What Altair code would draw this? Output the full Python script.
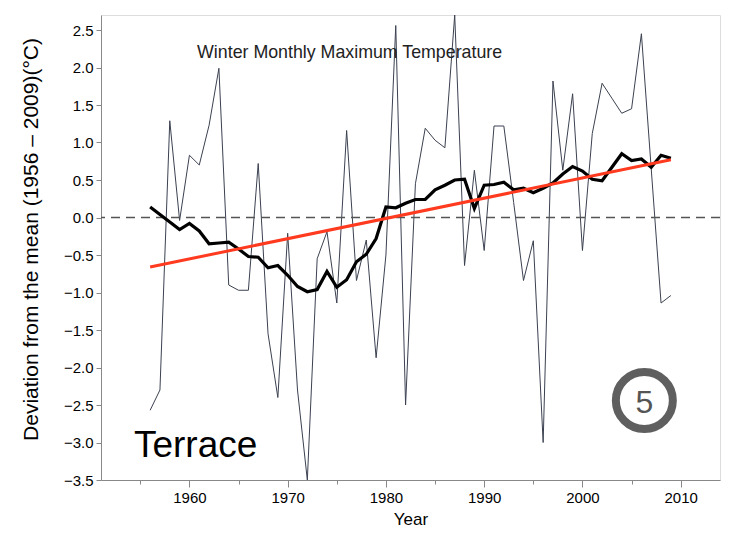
import altair as alt
import pandas as pd

years = list(range(1956, 2010))
annual = [-2.57, -2.30, 1.29, -0.04, 0.83, 0.70, 1.23, 1.99, -0.90, -0.97,
          -0.97, 0.72, -1.55, -2.40, -0.21, -2.30, -3.50, -0.55, -0.19, -1.14,
          1.16, -0.84, -0.30, -1.87, -0.50, 2.56, -2.50, 0.45, 1.19, 1.03,
          0.93, 2.70, -0.64, 0.63, -0.44, 1.22, 1.22, 0.20, -0.84, -0.31,
          -3.00, 1.82, 0.63, 1.65, -0.44, 1.12, 1.79, 1.59, 1.39, 1.45,
          2.45, 0.65, -1.14, -1.04]
running_mean = [0.14, 0.04, -0.06, -0.16, -0.08, -0.18, -0.35, -0.34, -0.33, -0.42,
                -0.52, -0.53, -0.67, -0.64, -0.77, -0.92, -0.99, -0.96, -0.72, -0.93,
                -0.83, -0.59, -0.49, -0.28, 0.14, 0.13, 0.19, 0.24, 0.24, 0.37,
                0.43, 0.50, 0.51, 0.12, 0.43, 0.44, 0.47, 0.37, 0.39, 0.33,
                0.39, 0.46, 0.58, 0.68, 0.62, 0.51, 0.49, 0.67, 0.85, 0.76,
                0.78, 0.67, 0.83, 0.79]
trend_years = [1956, 2009]
trend_values = [-0.66, 0.77]
y_ticks = [-3.5, -3.0, -2.5, -2.0, -1.5, -1.0, -0.5, 0.0, 0.5, 1.0, 1.5, 2.0, 2.5]
x_ticks = list(range(1955, 2015, 5))

df = pd.DataFrame({"Year": years, "Annual": annual, "Mean": running_mean})
trend = pd.DataFrame({"Year": trend_years, "Trend": trend_values})
zero = pd.DataFrame({"v": [0.0]})

FONT = "Liberation Sans"
xs = alt.Scale(domain=[1951, 2014], nice=False, zero=False)
ys = alt.Scale(domain=[-3.5, 2.7], nice=False, zero=False)

x_axis = alt.Axis(
    values=x_ticks, format="d",
    labelExpr="datum.value % 10 === 0 ? datum.label : ''",
    tickSize={"condition": {"test": "datum.value % 10 === 0", "value": 7}, "value": 4},
    grid=False, title="Year", titleFontSize=17, titleFontWeight="normal",
    titlePadding=6, labelFontSize=15, labelPadding=3, labelFlush=False,
    labelOverlap=False,
)
y_axis = alt.Axis(
    values=y_ticks, format=".1f", tickSize=5, grid=False,
    title="Deviation from the mean (1956 \u2013 2009)(\u00b0C)",
    titleFontSize=21, titleFontWeight="normal", titlePadding=22, titleY=224,
    labelFontSize=15, labelPadding=3, labelOverlap=False,
)


def X(field):
    return alt.X(field, type="quantitative", scale=xs, axis=x_axis)


def Y(field):
    return alt.Y(field, type="quantitative", scale=ys, axis=y_axis)


base = alt.Chart(df)

thin = base.mark_line(color="#3b4150", strokeWidth=1).encode(x=X("Year"), y=Y("Annual"))
mean = base.mark_line(color="black", strokeWidth=3.2, strokeJoin="miter").encode(
    x=X("Year"), y=Y("Mean")
)
red = alt.Chart(trend).mark_line(color="#ff3a1f", strokeWidth=3).encode(
    x=X("Year"), y=Y("Trend")
)
zline = alt.Chart(zero).mark_rule(color="#555555", strokeWidth=1.3, strokeDash=[9, 6]).encode(
    y=Y("v")
)

title_df = pd.DataFrame({"x": [1976.3], "y": [2.2], "t": ["Winter Monthly Maximum Temperature"]})
title_txt = alt.Chart(title_df).mark_text(font=FONT, fontSize=17.8, color="#222222").encode(
    x=X("x"), y=Y("y"), text="t:N"
)
station_df = pd.DataFrame({"x": [1954.35], "y": [-3.05], "t": ["Terrace"]})
station_txt = alt.Chart(station_df).mark_text(
    font=FONT, fontSize=37, align="left", baseline="middle", color="black"
).encode(x=X("x"), y=Y("y"), text="t:N")

badge_df = pd.DataFrame({"x": [2006.3], "y": [-2.44], "t": ["5"]})
badge_ring = alt.Chart(badge_df).mark_point(
    shape="circle", size=3249, filled=False, stroke="#5f5f5f", strokeWidth=8, opacity=1
).encode(x=X("x"), y=Y("y"))
badge_txt = alt.Chart(badge_df).mark_text(
    font=FONT, fontSize=32, color="#555555", baseline="middle", dy=2
).encode(x=X("x"), y=Y("y"), text="t:N")

chart = alt.layer(
    thin, zline, mean, red, title_txt, station_txt, badge_ring, badge_txt
).properties(
    width=619, height=465,
    autosize="none",
    padding={"left": 93, "top": 7, "right": 4, "bottom": 51},
).configure_view(strokeWidth=0, stroke="transparent").configure_axis(
    domainColor="black", tickColor="black", labelColor="black", titleColor="black",
    labelFont=FONT, titleFont=FONT, domainWidth=1, tickWidth=1, labelOverlap=False,
).configure(background="white")

chart.save("out.html", embed_options={"renderer": "svg", "actions": False})
